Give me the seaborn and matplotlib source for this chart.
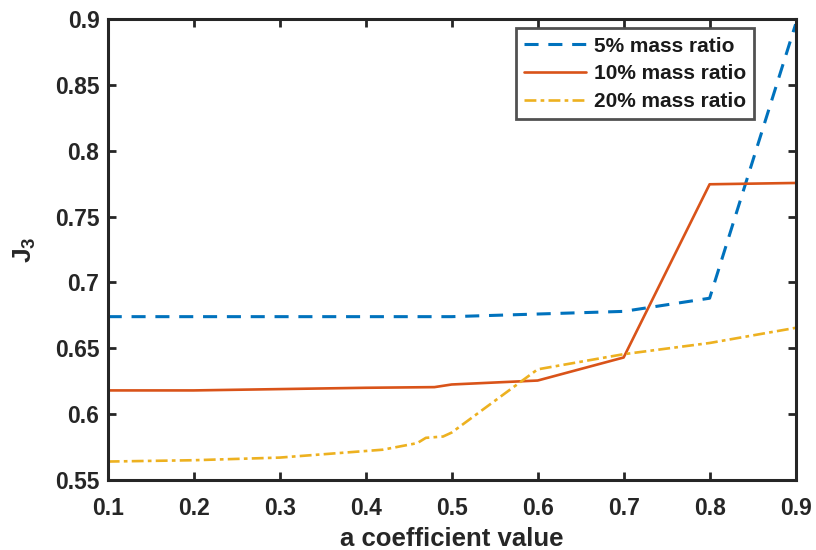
import matplotlib
matplotlib.use("Agg")
import matplotlib.pyplot as plt
import seaborn as sns
import pandas as pd

# data
x_5 = [0.1, 0.2, 0.3, 0.4, 0.5, 0.6, 0.7, 0.8, 0.9]
y_5 = [0.674, 0.674, 0.674, 0.674, 0.674, 0.676, 0.678, 0.688, 0.896]

x_10 = [0.1, 0.2, 0.3, 0.4, 0.48, 0.5, 0.6, 0.7, 0.8, 0.9]
y_10 = [0.618, 0.618, 0.619, 0.620, 0.6205, 0.6225, 0.6255, 0.643, 0.7745, 0.7755]

x_20 = [0.1, 0.2, 0.3, 0.4, 0.42, 0.46, 0.47, 0.49, 0.5, 0.6, 0.7, 0.8, 0.9]
y_20 = [0.564, 0.565, 0.567, 0.572, 0.573, 0.578, 0.582, 0.583, 0.586, 0.634, 0.6455, 0.654, 0.6655]

labels = ["5% mass ratio", "10% mass ratio", "20% mass ratio"]
colors = ["#0072BD", "#D95319", "#EDB120"]
styles = [(0, (4.6, 3.2)), "-", (0, (4.5, 1.6, 1.4, 1.6))]
widths = [2.2, 1.9, 1.9]

x_ticks = [0.1, 0.2, 0.3, 0.4, 0.5, 0.6, 0.7, 0.8, 0.9]
y_ticks = [0.55, 0.6, 0.65, 0.7, 0.75, 0.8, 0.85, 0.9]

sns.set_theme(style="white")
plt.rcParams["font.family"] = ["Liberation Sans", "DejaVu Sans"]
plt.rcParams["font.weight"] = "bold"
plt.rcParams["mathtext.fontset"] = "custom"
plt.rcParams["mathtext.rm"] = "Liberation Sans:bold"
plt.rcParams["mathtext.bf"] = "Liberation Sans:bold"

fig = plt.figure(figsize=(8.16, 5.5), dpi=100)
ax = fig.add_axes([0.132, 0.1273, 0.843, 0.8382])

series = [(x_5, y_5), (x_10, y_10), (x_20, y_20)]
for (xs, ys), lab, col, ls, lw in zip(series, labels, colors, styles, widths):
    df = pd.DataFrame({"x": xs, "y": ys})
    sns.lineplot(data=df, x="x", y="y", ax=ax, color=col, linestyle=ls,
                 linewidth=lw, label=lab, sort=False)

ax.set_xlim(0.1, 0.9)
ax.set_ylim(0.55, 0.9)
ax.set_xticks(x_ticks)
ax.set_yticks(y_ticks)
ax.set_xticklabels([f"{v:g}" for v in x_ticks], fontsize=16.5, fontweight="bold")
ax.set_yticklabels([f"{v:g}" for v in y_ticks], fontsize=16.5, fontweight="bold")
ax.tick_params(direction="in", length=6, width=2, top=True, right=True,
               bottom=True, left=True, color="#262626",
               labelcolor="#262626")
ax.tick_params(axis="x", pad=12)
ax.tick_params(axis="y", pad=6)
for sp in ax.spines.values():
    sp.set_linewidth(2.2)
    sp.set_color("#262626")
    sp.set_visible(True)

ax.set_xlabel("a coefficient value", fontsize=18.5, fontweight="bold", color="#262626", labelpad=5)
ax.set_ylabel(r"$\mathrm{J}_{\mathrm{3}}$", fontsize=19, color="#262626", labelpad=12)

leg = ax.legend(loc="upper right", bbox_to_anchor=(0.94, 0.98), fontsize=15,
                frameon=True, fancybox=False, edgecolor="#262626",
                handlelength=3.0, borderpad=0.4, labelspacing=0.42,
                handletextpad=0.35, borderaxespad=0)
leg.get_frame().set_linewidth(2.0)
for t in leg.get_texts():
    t.set_fontweight("bold")
    t.set_color("#1a1a1a")

fig.savefig("out.png", dpi=100)
